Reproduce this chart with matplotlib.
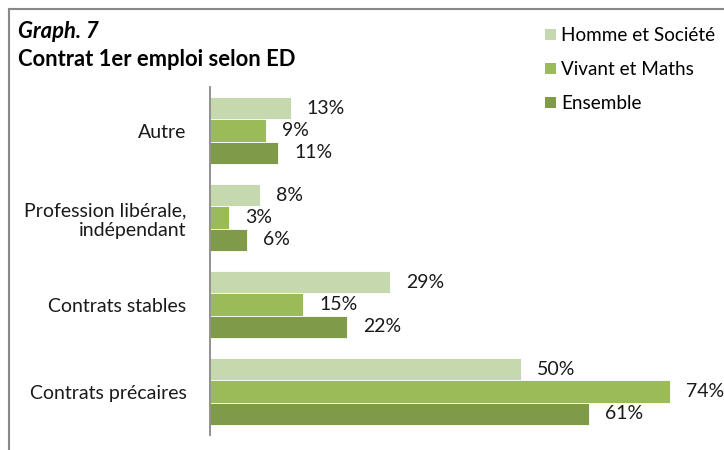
import matplotlib
matplotlib.use("Agg")
import matplotlib.pyplot as plt
from matplotlib.lines import Line2D
from matplotlib.patches import Patch
import numpy as np

plt.rcParams['font.family'] = ['Lato', 'DejaVu Sans']

# ========================= Data =========================
categories = ["Contrats précaires", "Contrats stables",
              "Profession libérale,\nindépendant", "Autre"]
series_names = ["Homme et Société", "Vivant et Maths", "Ensemble"]
homme_societe = [50, 29, 8, 13]
vivant_maths = [74, 15, 3, 9]
ensemble = [61, 22, 6, 11]
colors = ["#C6D8AD", "#9BBB59", "#7F9B49"]

# ========================= Figure =========================
W, H = 724, 450
fig = plt.figure(figsize=(W / 100, H / 100), dpi=100)

ax_left, ax_right = 210, 707
ax_top, ax_bottom = 87, 435
ax = fig.add_axes([ax_left / W, (H - ax_bottom) / H,
                   (ax_right - ax_left) / W, (ax_bottom - ax_top) / H])

y = np.arange(len(categories))
h = 0.253
series = [homme_societe, vivant_maths, ensemble]
offsets = [h, 0, -h]
for vals, off, col, name in zip(series, offsets, colors, series_names):
    bars = ax.barh(y + off, vals, height=h, color=col, edgecolor="white",
                   linewidth=0.6, label=name)
    for b, v in zip(bars, vals):
        ax.text(b.get_width() + 2.6, b.get_y() + b.get_height() / 2, f"{v}%",
                va="center", ha="left", fontsize=14, color="#1a1a1a")

ax.set_xlim(0, 80)
ax.set_ylim(-0.5, len(categories) - 0.5)
ax.set_yticks(y)
ax.set_yticklabels(categories, fontsize=14, color="#1a1a1a")
ax.tick_params(axis="y", length=0, pad=17)
ax.set_xticks([])
for s in ["top", "right", "bottom"]:
    ax.spines[s].set_visible(False)
ax.spines["left"].set_color("#888888")
ax.spines["left"].set_linewidth(1.3)

# titles
fig.text(18 / W, 1 - 32 / H, "Graph. 7", fontsize=15.8, fontweight="bold",
         fontstyle="italic", va="center", ha="left")
fig.text(18 / W, 1 - 60 / H, "Contrat 1er emploi selon ED", fontsize=15.8,
         fontweight="bold", va="center", ha="left")

# legend
handles = [Patch(facecolor=c, edgecolor="none") for c in colors]
leg = fig.legend(handles, series_names, loc="upper left",
                 bbox_to_anchor=(532 / W, 1 - 14 / H), frameon=False,
                 fontsize=13.6, handlelength=0.55, handleheight=0.55,
                 handletextpad=0.3, labelspacing=0.9, borderpad=0.2)

# chart frame (left and top edges)
fig.add_artist(Line2D([9 / W, 9 / W], [0, 1 - 9 / H], color="#888888", lw=1.5))
fig.add_artist(Line2D([9 / W, 1], [1 - 9 / H, 1 - 9 / H], color="#888888", lw=1.5))

fig.savefig("out.png", dpi=100)
